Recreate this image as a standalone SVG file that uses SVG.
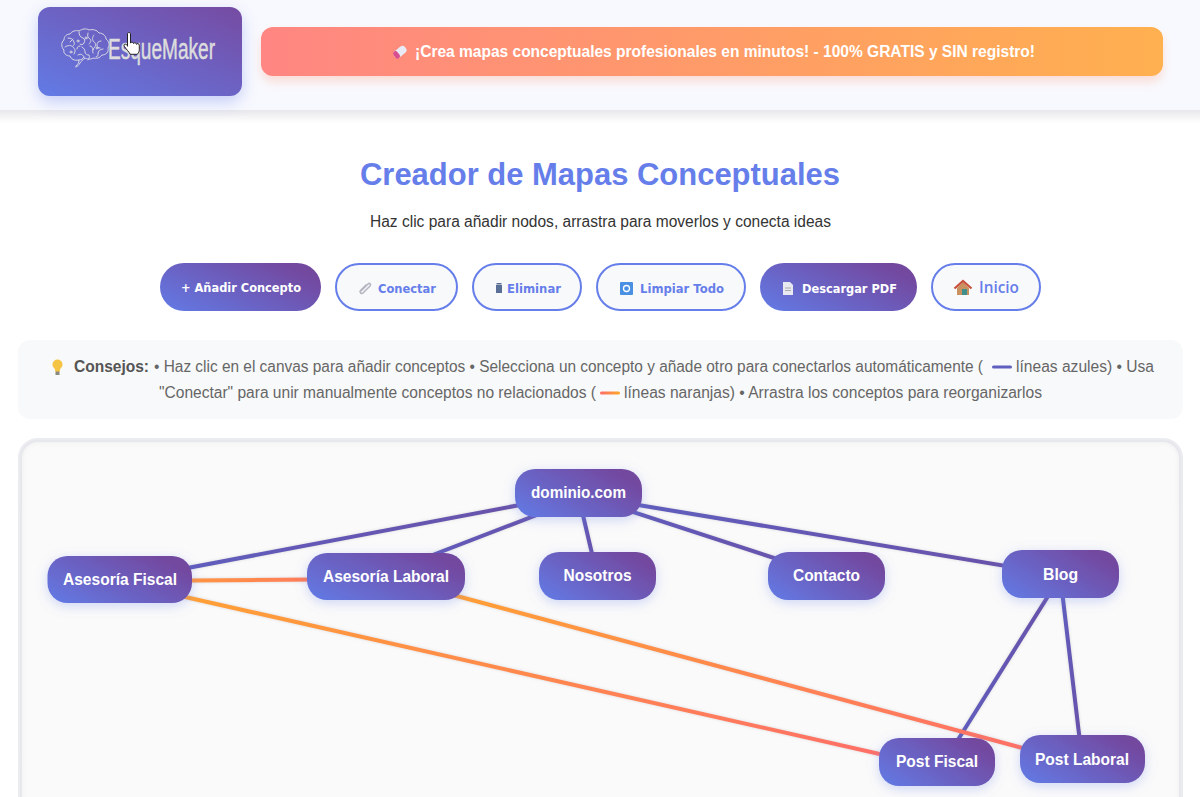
<svg xmlns="http://www.w3.org/2000/svg" width="1200" height="797" viewBox="0 0 1200 797">
<style>
text{font-family:"Liberation Sans",Arial,sans-serif}
.node rect{fill:url(#nodeGrad);filter:url(#nodeShadow)}
.node text{fill:#fff;font-size:16px;font-weight:700;text-anchor:middle}
.btn text{font-family:"DejaVu Sans",Verdana,sans-serif;font-size:13px;font-weight:700}
.outline>rect{fill:#f8f9fa;stroke:#667eea;stroke-width:2}
.outline>text{fill:#667eea}
.solid>rect{fill:url(#nodeGrad)}
.solid>text{fill:#fff}
.tip{font-size:16px;fill:#666}
#connectors line{stroke-width:4;stroke-linecap:round;filter:url(#lineShadow)}
.brain{fill:none;stroke:#d8d8e4;stroke-width:1;stroke-linecap:round;stroke-linejoin:round}
</style>
<defs>
<linearGradient id="nodeGrad" x1="0" y1="1" x2="1" y2="0.35"><stop offset="0" stop-color="#627be6"/><stop offset="1" stop-color="#73489f"/></linearGradient>
<linearGradient id="logoGrad" x1="0" y1="1" x2="1" y2="0"><stop offset="0" stop-color="#627be6"/><stop offset="1" stop-color="#764ba2"/></linearGradient>
<linearGradient id="bannerGrad" x1="0" y1="0" x2="1" y2="0"><stop offset="0" stop-color="#ff8682"/><stop offset="1" stop-color="#ffb04f"/></linearGradient>
<linearGradient id="blueLine" x1="0" y1="0" x2="1" y2="0"><stop offset="0" stop-color="#5f5fc0"/><stop offset="1" stop-color="#6a50a8"/></linearGradient>
<linearGradient id="or1" gradientUnits="userSpaceOnUse" x1="119" y1="582" x2="937" y2="767"><stop offset="0" stop-color="#ffa530"/><stop offset="1" stop-color="#ff6b6b"/></linearGradient>
<linearGradient id="or2" gradientUnits="userSpaceOnUse" x1="386" y1="577" x2="1082" y2="764"><stop offset="0" stop-color="#ffa530"/><stop offset="1" stop-color="#ff6b6b"/></linearGradient>
<linearGradient id="or3" gradientUnits="userSpaceOnUse" x1="119" y1="581" x2="386" y2="579"><stop offset="0" stop-color="#ffa530"/><stop offset="1" stop-color="#ff6b6b"/></linearGradient>
<linearGradient id="legendOr" x1="0" y1="0" x2="1" y2="0"><stop offset="0" stop-color="#ff6b6b"/><stop offset="1" stop-color="#ffa726"/></linearGradient>
<filter id="nodeShadow" x="-30%" y="-50%" width="160%" height="200%"><feDropShadow dx="0" dy="3" stdDeviation="6" flood-color="#667eea" flood-opacity=".3"/></filter>
<filter id="lineShadow" x="-5%" y="-5%" width="110%" height="110%" filterUnits="userSpaceOnUse" primitiveUnits="userSpaceOnUse"><feDropShadow dx="0" dy="0" stdDeviation="1.500" flood-color="#888" flood-opacity=".3"/></filter>
<filter id="soft" x="-20%" y="-50%" width="140%" height="220%"><feGaussianBlur stdDeviation="8"/></filter>
<filter id="softer" x="-5%" y="-50%" width="110%" height="220%"><feGaussianBlur stdDeviation="5"/></filter>
<filter id="inner" x="-5%" y="-5%" width="110%" height="110%"><feGaussianBlur stdDeviation="3"/></filter>
<clipPath id="canvasClip"><rect x="20" y="440" width="1161" height="380" rx="18"/></clipPath>
</defs>

<rect width="1200" height="797" fill="#fff"/>
<rect x="-20" y="102" width="1240" height="14" fill="#e6e6ea" filter="url(#softer)"/>
<rect id="header" width="1200" height="110" fill="#f8f9fe"/>

<g id="logo">
<rect x="38" y="13" width="204" height="89" rx="12" fill="#667eea" opacity=".35" filter="url(#soft)"/>
<rect x="38" y="7" width="204" height="89" rx="12" fill="url(#logoGrad)"/>
<g class="brain">
<path d="M76 66c2-2 3-3 3-6-5 1-8-1-9-4-4 0-7-3-6-6-3-3-3-8 0-10 0-4 3-6 6-6 2-3 6-4 9-3 3-2 7-3 10-1 4-1 8 0 10 3 4 0 7 3 7 6 3 2 4 6 2 9 1 4-2 7-6 7-2 3-6 4-9 3-3 2-6 1-8 0-2 2-4 3-5 5-1 2-3 4-4 4z"/>
<path d="M68 38c3 0 5 1 6 4 1 2 0 3-1 4M65 47c3-2 6-2 8 0 2 2 3 4 1 7M79 32c0 3 1 5 4 6 2 1 2 3 1 5-1 2-3 2-4 1M88 33c-1 3 0 5 2 6 2 2 0 4-1 5M94 35c-2 2-2 5 0 7 2 1 2 4 0 6-1 1-2 3-1 5M101 41c-3 0-4 2-4 4 0 2 1 3 3 3M103 49c-3 0-5 2-5 5 0 1 0 3-2 3M82 47c2 1 3 3 3 5 0 2 2 3 4 3 1 2 0 4-1 5M78 55c3-2 5 0 6 2M90 46c2 0 3 2 3 4M70 42l3-3M77 49c0-2 1-3 3-3M79 60c2 0 4-1 5-3"/>
<circle cx="78" cy="41" r="1"/><circle cx="97" cy="48" r="1"/><circle cx="86" cy="38" r="1"/><circle cx="71" cy="52" r="1"/>
</g>
<text x="108" y="59" font-size="29" fill="#ddd" stroke="#ddd" stroke-width=".5" textLength="107" lengthAdjust="spacingAndGlyphs">EsqueMaker</text>
</g>

<g id="cursor">
<path d="M127.500 34c0-2 3-2 3 0v9c0-1 3-1 3 .5 0-1 3-1 3 .8 0-1 2.800-1 2.800 1v4.500c0 2-1 3-2 4.500h-7c-1-2-4-5-6-8-1-2 1-3 3-1l.2 1z" fill="#fff" stroke="#222" stroke-width="1"/>
</g>

<g id="banner">
<rect x="261" y="33" width="902" height="49" rx="12" fill="#ff9f80" opacity=".3" filter="url(#softer)"/>
<rect x="261" y="27" width="902" height="49" rx="12" fill="url(#bannerGrad)"/>
<g transform="rotate(-40 400 52)"><rect x="393" y="48" width="14" height="8" rx="3.500" fill="#e8eaf6"/><rect x="393" y="48" width="5" height="8" rx="2.500" fill="#d84f90"/></g>
<text x="415" y="57" font-size="16" font-weight="700" fill="#fff" textLength="620" lengthAdjust="spacingAndGlyphs">¡Crea mapas conceptuales profesionales en minutos! - 100% GRATIS y SIN registro!</text>
</g>

<text id="title" x="360" y="185" font-size="32" font-weight="700" fill="#667eea" textLength="480" lengthAdjust="spacingAndGlyphs">Creador de Mapas Conceptuales</text>
<text id="subtitle" x="370" y="227" font-size="16" fill="#333" textLength="461" lengthAdjust="spacingAndGlyphs">Haz clic para añadir nodos, arrastra para moverlos y conecta ideas</text>

<g id="buttons">
<g id="btn-add" class="btn solid"><rect x="160" y="263" width="161" height="48" rx="24"/><text x="181" y="291.500" textLength="120" lengthAdjust="spacingAndGlyphs">+ Añadir Concepto</text></g>
<g id="btn-connect" class="btn outline"><rect x="336" y="264" width="121" height="46" rx="23"/>
<path d="M361 291l7-7c1.500-1.500 3.500 .5 2 2l-7 7c-1.500 1.500-4-1-2.500-2.500l6-6" fill="none" stroke="#b4b4c0" stroke-width="1.500"/>
<text x="378" y="292.500" textLength="58" lengthAdjust="spacingAndGlyphs">Conectar</text></g>
<g id="btn-delete" class="btn outline"><rect x="473" y="264" width="108" height="46" rx="23"/>
<path d="M496 285h6v8h-6zM496.500 283h5v1.500h-5z" fill="#5a6f95"/>
<text x="507" y="292.500" textLength="54" lengthAdjust="spacingAndGlyphs">Eliminar</text></g>
<g id="btn-clear" class="btn outline"><rect x="597" y="264" width="148" height="46" rx="23"/>
<path d="M621 282h11a1 1 0 0 1 1 1v11a1 1 0 0 1-1 1h-11a1 1 0 0 1-1-1v-11a1 1 0 0 1 1-1z" fill="#4a90e2"/><circle cx="626.500" cy="288.500" r="3" fill="none" stroke="#fff" stroke-width="1.300"/>
<text x="640" y="292.500" textLength="84" lengthAdjust="spacingAndGlyphs">Limpiar Todo</text></g>
<g id="btn-pdf" class="btn solid"><rect x="760" y="263" width="157" height="48" rx="24"/>
<path d="M783 282h7l3 3v10h-10z" fill="#e8e8f0"/><path d="M785 288h6M785 290.500h6" stroke="#aaa" stroke-width="1"/>
<text x="802" y="292.500" textLength="95" lengthAdjust="spacingAndGlyphs">Descargar PDF</text></g>
<g id="btn-home" class="outline"><rect x="932" y="264" width="108" height="46" rx="23"/>
<path d="M957 288l6-6 6 6v7h-12z" fill="#c9915f"/><path d="M954.500 288.500l8.500-7.500 8.500 7.500" fill="none" stroke="#c8503c" stroke-width="2.200"/><path d="M962 289h5v6h-5z" fill="#3f8f8a"/>
<text x="979" y="293" font-size="16" font-weight="600" textLength="40" lengthAdjust="spacingAndGlyphs" style="font-family:'Open Sans',sans-serif">Inicio</text></g>
</g>

<g id="tips">
<rect x="18" y="340" width="1165" height="79" rx="12" fill="#f8f9fa"/>
<circle cx="57.500" cy="364.500" r="5" fill="#f5c445"/><path d="M54.500 368h6l-1 4h-4z" fill="#f5c445"/><rect x="55.500" y="371.500" width="4" height="3.500" fill="#8a8a80"/>
<text x="74" y="372" font-size="16" font-weight="700" fill="#555" textLength="75" lengthAdjust="spacingAndGlyphs">Consejos:</text>
<text class="tip" x="154" y="372" textLength="829" lengthAdjust="spacingAndGlyphs">• Haz clic en el canvas para añadir conceptos • Selecciona un concepto y añade otro para conectarlos automáticamente (</text>
<rect x="992" y="365.500" width="20" height="3" rx="1.500" fill="#5f5fc0"/>
<text class="tip" x="1016" y="372" textLength="138" lengthAdjust="spacingAndGlyphs">líneas azules) • Usa</text>
<text class="tip" x="159" y="398" textLength="437" lengthAdjust="spacingAndGlyphs">"Conectar" para unir manualmente conceptos no relacionados (</text>
<rect x="600" y="391.500" width="20" height="3" rx="1.500" fill="url(#legendOr)"/>
<text class="tip" x="624" y="398" textLength="418" lengthAdjust="spacingAndGlyphs">líneas naranjas) • Arrastra los conceptos para reorganizarlos</text>
</g>

<g id="canvas">
<rect x="20" y="440" width="1161" height="380" rx="18" fill="#fafafa" stroke="#ebecf0" stroke-width="4"/>
<g clip-path="url(#canvasClip)"><rect x="18" y="438" width="1165" height="384" rx="20" fill="none" stroke="#dcdce2" stroke-width="5" filter="url(#inner)" opacity=".6"/></g>
</g>

<g id="connectors">
<line x1="119" y1="581" x2="578" y2="494" stroke="url(#blueLine)"/>
<line x1="386" y1="573" x2="578" y2="499" stroke="url(#blueLine)"/>
<line x1="578" y1="494" x2="597" y2="575" stroke="url(#blueLine)"/>
<line x1="578" y1="494" x2="826" y2="575" stroke="url(#blueLine)"/>
<line x1="578" y1="495" x2="1060" y2="575" stroke="url(#blueLine)"/>
<line x1="1062" y1="574" x2="944" y2="762" stroke="url(#blueLine)"/>
<line x1="1060" y1="574" x2="1082" y2="759" stroke="url(#blueLine)"/>
<line x1="119" y1="581" x2="386" y2="579" stroke="url(#or3)"/>
<line x1="119" y1="582" x2="937" y2="767" stroke="url(#or1)"/>
<line x1="386" y1="577" x2="1082" y2="764" stroke="url(#or2)"/>
</g>

<g id="nodes">
<g id="n-dominio" class="node"><rect x="515" y="469" width="127" height="48" rx="20"/><text x="578.500" y="498" textLength="95" lengthAdjust="spacingAndGlyphs">dominio.com</text></g>
<g id="n-fiscal" class="node"><rect x="47.500" y="556" width="144.500" height="47" rx="20"/><text x="120" y="584.500" textLength="114" lengthAdjust="spacingAndGlyphs">Asesoría Fiscal</text></g>
<g id="n-laboral" class="node"><rect x="307" y="553" width="158" height="47" rx="20"/><text x="386" y="581.500" textLength="126" lengthAdjust="spacingAndGlyphs">Asesoría Laboral</text></g>
<g id="n-nosotros" class="node"><rect x="539" y="552" width="117" height="48" rx="20"/><text x="597.500" y="581" textLength="68" lengthAdjust="spacingAndGlyphs">Nosotros</text></g>
<g id="n-contacto" class="node"><rect x="768" y="552" width="117" height="48" rx="20"/><text x="826.500" y="581" textLength="67" lengthAdjust="spacingAndGlyphs">Contacto</text></g>
<g id="n-blog" class="node"><rect x="1002" y="550" width="117" height="48" rx="20"/><text x="1060.500" y="580" textLength="35" lengthAdjust="spacingAndGlyphs">Blog</text></g>
<g id="n-postfiscal" class="node"><rect x="879" y="738" width="116" height="48" rx="20"/><text x="937" y="767" textLength="82" lengthAdjust="spacingAndGlyphs">Post Fiscal</text></g>
<g id="n-postlaboral" class="node"><rect x="1020" y="735" width="125" height="48" rx="20"/><text x="1082" y="764.500" textLength="94" lengthAdjust="spacingAndGlyphs">Post Laboral</text></g>
</g>
</svg>
